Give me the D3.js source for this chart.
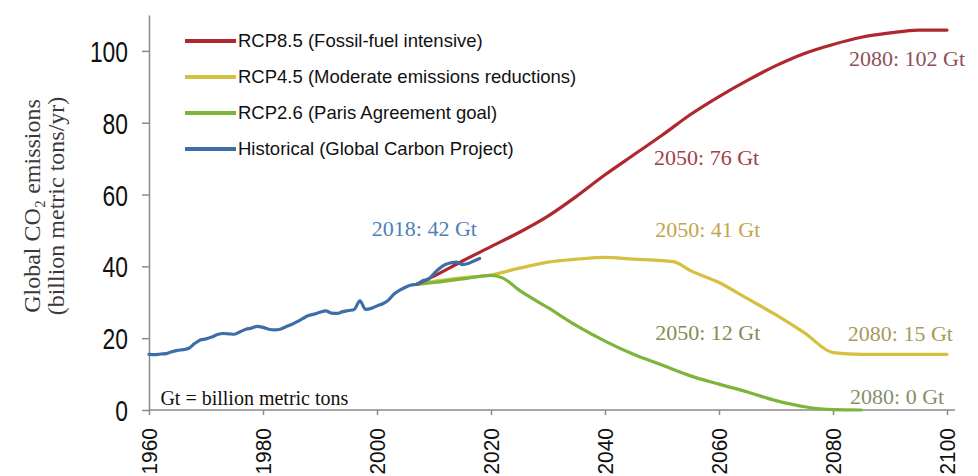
<!DOCTYPE html>
<html><head><meta charset="utf-8">
<script src="https://cdn.jsdelivr.net/npm/d3@7"></script>
<style>body{margin:0;background:#fff}svg{display:block}</style>
</head><body><svg id="c" width="978" height="476"></svg>
<script>
// ---- data ----
const histYears = [1960,1961,1962,1963,1964,1965,1966,1967,1968,1969,1970,1971,1972,1973,1974,1975,1976,1977,1978,1979,1980,1981,1982,1983,1984,1985,1986,1987,1988,1989,1990,1991,1992,1993,1994,1995,1996,1997,1998,1999,2000,2001,2002,2003,2004,2005,2006,2007,2008,2009,2010,2011,2012,2013,2014,2015,2016,2017,2018];
const histValues = [15.5,15.4,15.6,15.7,16.2,16.6,16.8,17.2,18.5,19.5,19.8,20.3,21.0,21.3,21.2,21.1,21.8,22.5,22.8,23.3,23.0,22.5,22.3,22.5,23.2,23.8,24.6,25.5,26.3,26.7,27.2,27.6,27.0,26.9,27.4,27.7,28.0,30.4,28.0,28.3,29.0,29.6,30.6,32.3,33.4,34.2,34.8,35.0,36.0,36.4,38.0,39.5,40.5,41.0,41.2,40.5,40.8,41.5,42.2];

const rcp85Years = [2007,2010,2015,2020,2025,2030,2035,2040,2045,2050,2055,2060,2065,2070,2075,2080,2085,2090,2095,2100];
const rcp85Values = [35.0,37.3,41.5,45.5,49.5,54.0,59.5,65.5,71.0,76.5,82.3,87.3,91.8,95.9,99.3,101.8,103.8,105.0,105.8,105.8];

const rcp45Years = [2007,2010,2015,2020,2025,2030,2035,2040,2045,2050,2052,2055,2060,2065,2070,2075,2080,2085,2090,2095,2100];
const rcp45Values = [35.0,35.8,36.8,37.6,39.5,41.2,42.0,42.5,42.0,41.6,41.3,38.8,35.5,31.0,26.5,21.5,16.0,15.5,15.5,15.5,15.5];

const rcp26Years = [2007,2010,2015,2020,2022,2025,2030,2035,2040,2045,2050,2055,2060,2065,2070,2075,2080,2085];
const rcp26Values = [35.0,35.5,36.5,37.5,36.8,33.3,28.5,23.5,19.2,15.5,12.5,9.5,7.2,5.0,2.6,0.9,0.1,0.0];

const seriesNames = ["RCP8.5 (Fossil-fuel intensive)","RCP4.5 (Moderate emissions reductions)","RCP2.6 (Paris Agreement goal)","Historical (Global Carbon Project)"];
const seriesColors = ["#b0282f","#d6c040","#7cb53a","#3e6ea8"];

const xTicks = [1960,1980,2000,2020,2040,2060,2080,2100];
const yTicks = [0,20,40,60,80,100];

const annoTexts  = ["2018: 42 Gt","2050: 76 Gt","2080: 102 Gt","2050: 41 Gt","2050: 12 Gt","2080: 15 Gt","2080: 0 Gt"];
const annoYears  = [1999.1,2048.6,2082.8,2048.8,2048.8,2082.6,2083.0];
const annoValues = [48.5,68.2,95.8,48.2,19.5,19.2,1.7];
const annoColors = ["#4e7fb8","#a2404a","#8c5058","#c4a44c","#7f8f55","#a89a58","#85906a"];

// ---- chart ----
const svg = d3.select("#c");
const x = d3.scaleLinear().domain([1960,2100]).range([149,947]);
const y = d3.scaleLinear().domain([0,110]).range([410,15]);
const axisColor = "#8a8a8a";
const squeeze = (sel, k) => sel.each(function(){
  const w = this.getComputedTextLength();
  d3.select(this).attr("textLength", w*k).attr("lengthAdjust","spacingAndGlyphs");
});

// axes
const gx = svg.append("g").attr("transform","translate(0,410)")
  .call(d3.axisBottom(x).tickValues(xTicks).tickSize(5).tickSizeOuter(0).tickFormat(d3.format("d")));
gx.select(".domain").remove();
svg.append("line").attr("x1",149).attr("x2",955).attr("y1",410).attr("y2",410)
  .attr("stroke",axisColor).attr("stroke-width",1.5);
gx.selectAll(".tick line").attr("stroke",axisColor).attr("stroke-width",1.5);
gx.selectAll(".tick text")
  .attr("font-family","'Liberation Sans', Arial, sans-serif").attr("font-size",22).attr("fill","#111")
  .attr("text-anchor","end").attr("dominant-baseline","central")
  .attr("x",0).attr("y",0).attr("dy",null)
  .attr("transform","translate(0,18) rotate(-90)");
squeeze(gx.selectAll(".tick text"), 0.95);

const gy = svg.append("g").attr("transform","translate(149,0)")
  .call(d3.axisLeft(y).tickValues(yTicks).tickSize(7).tickSizeOuter(0).tickPadding(14));
gy.select(".domain").attr("stroke",axisColor).attr("stroke-width",1.5);
gy.selectAll(".tick line").attr("stroke",axisColor).attr("stroke-width",1.5);
gy.selectAll(".tick text")
  .attr("font-family","'Liberation Sans', Arial, sans-serif").attr("font-size",30).attr("fill","#111")
  .attr("dy","0.35em")
  .attr("textLength", d => String(d).length * 12.7).attr("lengthAdjust","spacingAndGlyphs");

// y axis title
const yt = svg.append("text").attr("transform","translate(0,206) rotate(-90)")
  .attr("text-anchor","middle").attr("font-family","'Liberation Serif', 'DejaVu Serif', serif")
  .attr("font-size",24).attr("fill","#3a3a3a");
yt.append("tspan").attr("x",0).attr("y",40).text("Global CO\u2082 emissions");
yt.append("tspan").attr("x",0).attr("y",64).text("(billion metric tons/yr)");

// lines
const line = d3.line().x(d => x(d[0])).y(d => y(d[1])).curve(d3.curveMonotoneX);
const zip = (a,b) => a.map((v,i) => [v,b[i]]);
const seriesData = [zip(rcp85Years,rcp85Values), zip(rcp45Years,rcp45Values), zip(rcp26Years,rcp26Values), zip(histYears,histValues)];
const drawOrder = [1,2,0,3];
drawOrder.forEach(i => {
  svg.append("path").datum(seriesData[i]).attr("d",line)
    .attr("fill","none").attr("stroke",seriesColors[i]).attr("stroke-width",3.2)
    .attr("stroke-linejoin","round").attr("stroke-linecap","round");
});

// legend
const lg = svg.append("g");
seriesNames.forEach((n,i) => {
  const yy = 41 + i*36;
  lg.append("line").attr("x1",185).attr("x2",236).attr("y1",yy).attr("y2",yy)
    .attr("stroke",seriesColors[i]).attr("stroke-width",4);
  lg.append("text").attr("x",238).attr("y",yy).attr("dy","0.35em")
    .attr("font-family","'Liberation Sans', Arial, sans-serif").attr("font-size",18.5).attr("fill","#111")
    .text(n);
});

// annotations
annoTexts.forEach((t,i) => {
  svg.append("text").attr("x",x(annoYears[i])).attr("y",y(annoValues[i]))
    .attr("font-family","'Liberation Serif', 'DejaVu Serif', serif").attr("font-size",22)
    .attr("fill",annoColors[i]).text(t);
});
svg.append("text").attr("x",x(1962)).attr("y",y(1.4))
  .attr("font-family","'Liberation Serif', 'DejaVu Serif', serif").attr("font-size",20)
  .attr("fill","#111").text("Gt = billion metric tons");
</script></body></html>
